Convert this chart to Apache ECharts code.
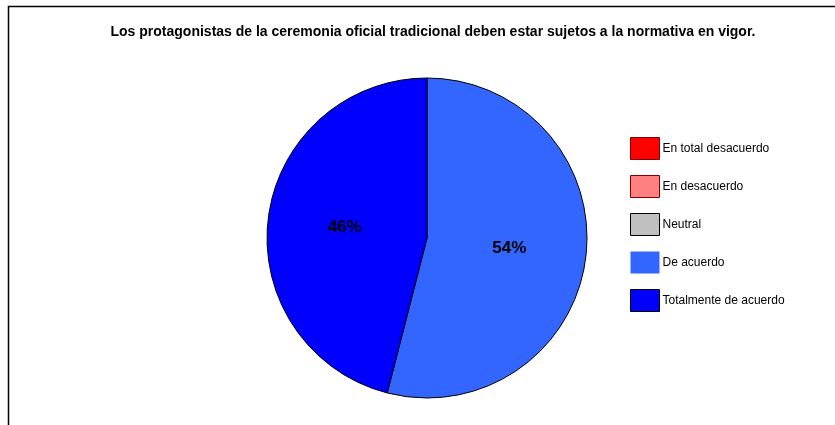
<!DOCTYPE html>
<html>
<head>
<meta charset="utf-8">
<script src="https://cdn.jsdelivr.net/npm/echarts@6/dist/echarts.min.js"></script>
<style>
  html, body { margin: 0; padding: 0; background: #fff; }
  #chart { width: 835px; height: 425px; }
</style>
</head>
<body>
<div id="chart"></div>
<script>
// Survey answers and their share of responses (percent)
const categories = ['En total desacuerdo', 'En desacuerdo', 'Neutral', 'De acuerdo', 'Totalmente de acuerdo'];
const shares = [0, 0, 0, 54, 46];
const colors = ['#FF0000', '#FF8080', '#C0C0C0', '#3366FF', '#0000FF'];
const swatchBorders = ['#800000', '#800000', '#000000', 'transparent', '#000000'];
const titleText = 'Los protagonistas de la ceremonia oficial tradicional deben estar sujetos a la normativa en vigor.';

const chart = echarts.init(document.getElementById('chart'), null, { renderer: 'canvas' });

chart.setOption({
  backgroundColor: '#ffffff',
  animation: false,
  title: {
    text: titleText,
    left: 428,
    textAlign: 'center',
    top: 20,
    textStyle: { fontFamily: 'Liberation Sans, Arial, sans-serif', fontWeight: 'bold', fontSize: 14, color: '#000' }
  },
  graphic: [{
    type: 'rect',
    shape: { x: 8.5, y: 6.5, width: 900, height: 500 },
    style: { fill: 'none', stroke: '#000', lineWidth: 1.5 },
    silent: true
  }],
  legend: {
    orient: 'vertical',
    left: 625,
    top: 132,
    itemWidth: 29,
    itemHeight: 22,
    itemGap: 15,
    icon: 'rect',
    selectedMode: false,
    textStyle: { fontFamily: 'Liberation Sans, Arial, sans-serif', fontSize: 12, color: '#000', padding: [0, 0, 0, -2] },
    data: categories.map((name, i) => ({
      name,
      itemStyle: { color: colors[i], borderColor: swatchBorders[i], borderWidth: 1 }
    }))
  },
  series: [{
    type: 'pie',
    center: [427, 238],
    radius: 160,
    startAngle: 90,
    clockwise: true,
    avoidLabelOverlap: false,
    stillShowZeroSum: true,
    itemStyle: { borderColor: '#000', borderWidth: 1 },
    label: {
      position: 'inside',
      formatter: p => p.value > 0 ? p.value + '%' : '',
      fontFamily: 'Liberation Sans, Arial, sans-serif',
      fontWeight: 'bold',
      fontSize: 17,
      color: '#000'
    },
    labelLine: { show: false },
    emphasis: { disabled: true },
    data: categories.map((name, i) => ({
      name,
      value: shares[i],
      itemStyle: { color: colors[i] }
    }))
  }]
});
</script>
</body>
</html>
